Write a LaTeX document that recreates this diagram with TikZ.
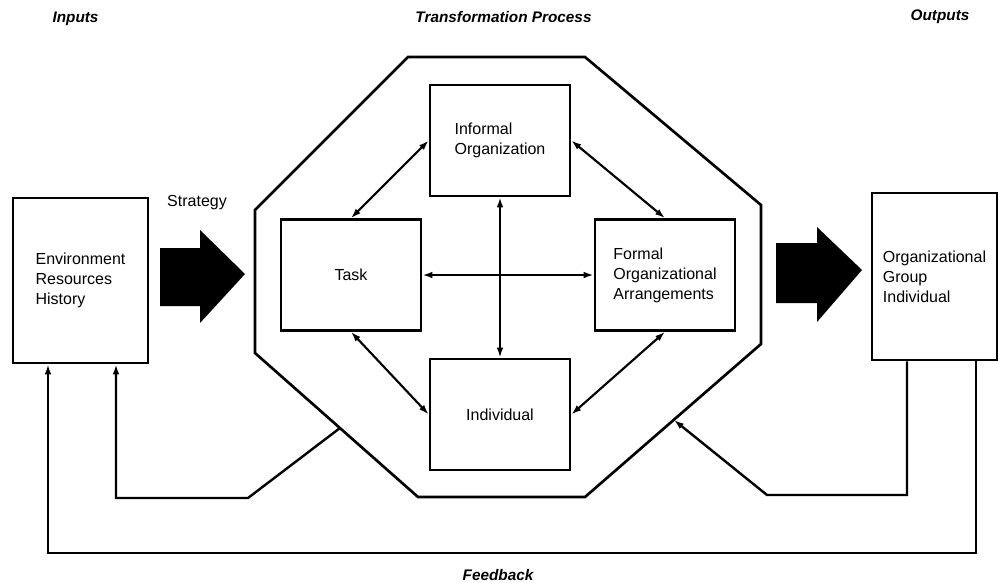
\documentclass[tikz,border=0pt]{standalone}
\usepackage{fontspec}
\setmainfont{Liberation Sans}
\usepackage{tikz}
\usetikzlibrary{arrows.meta}
\usetikzlibrary{positioning}

\begin{document}
\begin{tikzpicture}[x=0.75pt,y=0.75pt,yscale=-1,xscale=1,
  box/.style={draw,line width=2pt,inner sep=0pt,align=left,font=\fontsize{12}{15}\selectfont},
  link/.style={line width=1.6pt,{Latex[length=7.5pt,width=5pt]}-{Latex[length=7.5pt,width=5pt]}},
  fb/.style={line width=1.8pt,-{Latex[length=7.5pt,width=5pt]}},
  head/.style={inner sep=0.75pt,font=\fontsize{11.5}{14}\selectfont\bfseries\itshape}]
  \useasboundingbox (0,0) rectangle (998,582);

  % Text Node
  \node (inputs) [head] at (75.5,19) {Inputs};
  % Text Node
  \node (process) [head] at (503.5,17) {Transformation Process};
  % Text Node
  \node (outputs) [head] at (940,17) {Outputs};
  % Text Node
  \node (feedback) [head] at (498,575) {Feedback};
  % Text Node
  \node (strat) [inner sep=0.75pt,font=\fontsize{12}{15}\selectfont] at (197,203) {Strategy};

  %Shape: Octagon
  \draw [line width=2pt,line join=miter] (408,57) -- (585,57) -- (761,205) -- (761,344) -- (585,497) -- (418,497) -- (255,353) -- (255,210) -- cycle ;
  \coordinate (octL) at (340,428);
  \coordinate (octR) at (674,420);

  %Shape: Block Arrow
  \fill (160,248) -- (200,248) -- (200,230) -- (245,274) -- (200,323) -- (200,306) -- (160,306) -- cycle ;
  %Shape: Block Arrow
  \fill (776,243) -- (817,243) -- (817,227) -- (862,270) -- (817,322) -- (817,303) -- (776,303) -- cycle ;

  % Boxes
  \node (env) [box,minimum width=101.25pt,minimum height=123.75pt] at (80.5,280.5) {Environment\\Resources\\History};
  \node (outp) [box,minimum width=93.75pt,minimum height=125.25pt] at (934.5,276.5) {Organizational\\Group\\Individual};
  \node (inform) [box,minimum width=105pt,minimum height=83.25pt] at (500,140.5) {Informal\\Organization};
  \node (task) [box,minimum width=105pt,minimum height=83.25pt] at (351,275) {Task};
  \node (formal) [box,minimum width=105pt,minimum height=83.25pt] at (665,275) {Formal\\Organizational\\Arrangements};
  \node (indiv) [box,minimum width=105pt,minimum height=83.25pt] at (500,414.5) {Individual};

  % Links
  \draw [link] (task.north) -- (inform.west) ;
  \draw [link] (inform.east) -- (formal.north) ;
  \draw [link] (task.south) -- (indiv.west) ;
  \draw [link] (formal.south) -- (indiv.east) ;
  \draw [link] (task.east) -- (formal.west) ;
  \draw [link] (inform.south) -- (indiv.north) ;

  % Feedback
  \coordinate (fbL) at (116,498);
  \coordinate (fbR) at (907,495);
  \coordinate (fbO1) at (976,553);
  \coordinate (fbO2) at (48,553);
  \draw [fb] (octL) -- (248,498) -- (fbL) -- (fbL |- env.south) ;
  \draw [fb] (fbR |- outp.south) -- (fbR) -- (767,495) -- (octR) ;
  \draw [fb] (fbO1 |- outp.south) -- (fbO1) -- (fbO2) -- (fbO2 |- env.south) ;
\end{tikzpicture}
\end{document}
